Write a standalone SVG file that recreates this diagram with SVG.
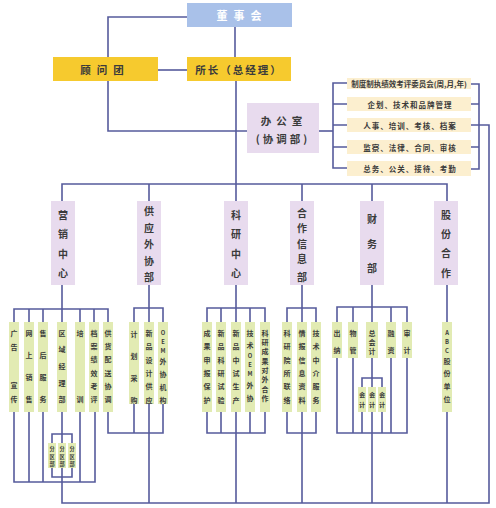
<svg xmlns="http://www.w3.org/2000/svg" width="496" height="508" viewBox="0 0 496 508">
<defs>
<style>
.ln{stroke:#565b9c;stroke-width:1.6;fill:none}
.top{fill:#a9c1e9}
.yel{fill:#f6ca2e}
.off{fill:#e8dbee}
.row{fill:#fcefcf}
.dept{fill:#e8dbee}
.item{fill:#e2ebb3}
text{font-family:"Noto Sans CJK SC","Noto Sans",sans-serif;text-anchor:middle;dominant-baseline:central;fill:#3b3b3b}
.tw{fill:#ffffff;font-size:11px;font-weight:bold;letter-spacing:6px}
.tb{font-size:10.5px;font-weight:bold}
.td{font-size:10px;font-weight:bold}
.tr{font-size:7.5px;font-weight:bold}
.ti{font-size:7px;font-weight:bold}
.tl{font-size:5.8px}
.ts{font-size:6.2px;font-weight:bold}
.tz{font-size:5.2px;font-weight:bold}
</style>
</defs>
<rect width="496" height="508" fill="#ffffff"/>
<g id="connectors">
<path class="ln" d="M187,17H108V57"/>
<path class="ln" d="M235,27V57"/>
<path class="ln" d="M158,70H187"/>
<path class="ln" d="M108,81V131H247"/>
<path class="ln" d="M236,81V201"/>
<path class="ln" d="M319,131H333"/>
<path class="ln" d="M347,83H333V168H347M333,104H347M333,125H347M333,147H347"/>
<path class="ln" d="M471,84H479V169H471M471,104H479M471,147H479"/>
<path class="ln" d="M471,125H489V503H62V412"/>
<path class="ln" d="M62,201V184H447V201M149,184V201M302,184V201M372,184V201"/>
<path class="ln" d="M62,285V322M14,322V309H108V322M29,309V322M43,309V322M80,309V322M94,309V322"/>
<path class="ln" d="M14,412V482H95V412M29,412V482M43,412V482M80,412V482"/>
<path class="ln" d="M52,443V434H72V443M52,468V477H72V468"/>
<path class="ln" d="M108,412V433H163V404"/>
<path class="ln" d="M149,285V503M134,322V308H163V322M134,404V433"/>
<path class="ln" d="M236,285V503M207,322V308H265V322M221,308V322M250,308V322"/>
<path class="ln" d="M207,412V433H265V412M221,412V433M250,412V433"/>
<path class="ln" d="M302,285V503M287,322V308H316V322M287,412V433H316V412"/>
<path class="ln" d="M372,285V503M337,322V307H407V322M353,307V322M391,307V322"/>
<path class="ln" d="M337,358V433H407V358M353,358V433M391,358V433"/>
<path class="ln" d="M362,387V378H382V387M362,412V433M382,412V433"/>
<path class="ln" d="M447,285V503"/>
</g>
<g id="board"><rect class="top" x="187" y="3" width="105" height="24"/><text class="tw" x="242" y="15">董事会</text></g>
<g id="advisors"><rect class="yel" x="53" y="57" width="105" height="24"/><text class="tb" x="105" y="69" style="letter-spacing:6px">顾问团</text></g>
<g id="director"><rect class="yel" x="187" y="57" width="104" height="24"/><text class="tb" x="239" y="69" style="letter-spacing:2px">所长（总经理）</text></g>
<g id="office"><rect class="off" x="247" y="103" width="72" height="50"/><text class="tb" x="284" y="120" style="letter-spacing:5px">办公室</text><text class="tb" x="283" y="138" style="letter-spacing:3px">(协调部)</text></g>
<g id="office-rows">
<rect class="row" x="347" y="78" width="124" height="11"/><text class="tr" x="409" y="83.5">制度制执绩效考评委员会(周,月,年)</text>
<rect class="row" x="347" y="97" width="124" height="14"/><text class="tr" x="410" y="104" style="letter-spacing:1px">企划、技术和品牌管理</text>
<rect class="row" x="347" y="118" width="124" height="14"/><text class="tr" x="410" y="125" style="letter-spacing:1px">人事、培训、考核、档案</text>
<rect class="row" x="347" y="140" width="124" height="14"/><text class="tr" x="410" y="147" style="letter-spacing:1px">监察、法律、合同、审核</text>
<rect class="row" x="347" y="161" width="124" height="15"/><text class="tr" x="410" y="168" style="letter-spacing:1px">总务、公关、接待、考勤</text>
</g>
<g id="dept-marketing"><rect class="dept" x="51" y="201" width="24" height="84"/><text class="td"><tspan x="63" y="214">营</tspan><tspan x="63" y="233">销</tspan><tspan x="63" y="253">中</tspan><tspan x="63" y="272">心</tspan></text></g>
<g id="dept-supply"><rect class="dept" x="137" y="201" width="24" height="84"/><text class="td"><tspan x="149" y="210">供</tspan><tspan x="149" y="227">应</tspan><tspan x="149" y="243">外</tspan><tspan x="149" y="260">协</tspan><tspan x="149" y="276">部</tspan></text></g>
<g id="dept-research"><rect class="dept" x="224" y="201" width="24" height="84"/><text class="td"><tspan x="236" y="214">科</tspan><tspan x="236" y="233">研</tspan><tspan x="236" y="253">中</tspan><tspan x="236" y="272">心</tspan></text></g>
<g id="dept-coop"><rect class="dept" x="290" y="201" width="24" height="84"/><text class="td"><tspan x="302" y="212">合</tspan><tspan x="302" y="227">作</tspan><tspan x="302" y="243">信</tspan><tspan x="302" y="258">息</tspan><tspan x="302" y="276">部</tspan></text></g>
<g id="dept-finance"><rect class="dept" x="360" y="201" width="24" height="84"/><text class="td"><tspan x="372" y="218">财</tspan><tspan x="372" y="243">务</tspan><tspan x="372" y="267">部</tspan></text></g>
<g id="dept-shares"><rect class="dept" x="434" y="201" width="24" height="84"/><text class="td"><tspan x="446" y="214">股</tspan><tspan x="446" y="233">份</tspan><tspan x="446" y="252">合</tspan><tspan x="446" y="272">作</tspan></text></g>
<g id="item-ad"><rect class="item" x="9" y="322" width="10" height="90"/><text class="ti"><tspan x="14" y="333">广</tspan><tspan x="14" y="347">告</tspan><tspan x="14" y="385">宣</tspan><tspan x="14" y="399">传</tspan></text></g>
<g id="item-online"><rect class="item" x="24" y="322" width="10" height="90"/><text class="ti"><tspan x="29" y="333">网</tspan><tspan x="29" y="355">上</tspan><tspan x="29" y="377">销</tspan><tspan x="29" y="399">售</tspan></text></g>
<g id="item-aftersale"><rect class="item" x="38" y="322" width="10" height="90"/><text class="ti"><tspan x="43" y="333">售</tspan><tspan x="43" y="355">后</tspan><tspan x="43" y="377">服</tspan><tspan x="43" y="399">务</tspan></text></g>
<g id="item-region"><rect class="item" x="57" y="322" width="10" height="90"/><text class="ti"><tspan x="62" y="333">区</tspan><tspan x="62" y="349">域</tspan><tspan x="62" y="366">经</tspan><tspan x="62" y="383">理</tspan><tspan x="62" y="399">部</tspan></text></g>
<g id="item-training"><rect class="item" x="75" y="322" width="10" height="90"/><text class="ti"><tspan x="80" y="333">培</tspan><tspan x="80" y="399">训</tspan></text></g>
<g id="item-archive"><rect class="item" x="89" y="322" width="10" height="90"/><text class="ti"><tspan x="94" y="333">档</tspan><tspan x="94" y="346">案</tspan><tspan x="94" y="359">绩</tspan><tspan x="94" y="373">效</tspan><tspan x="94" y="386">考</tspan><tspan x="94" y="399">评</tspan></text></g>
<g id="item-delivery"><rect class="item" x="103" y="322" width="10" height="90"/><text class="ti"><tspan x="108" y="333">供</tspan><tspan x="108" y="346">货</tspan><tspan x="108" y="359">配</tspan><tspan x="108" y="373">送</tspan><tspan x="108" y="386">协</tspan><tspan x="108" y="399">调</tspan></text></g>
<g id="sub-1"><rect class="item" x="48" y="443" width="8" height="25"/><text class="tz"><tspan x="52" y="448">分</tspan><tspan x="52" y="455.5">区</tspan><tspan x="52" y="463">部</tspan></text></g>
<g id="sub-2"><rect class="item" x="58" y="443" width="8" height="25"/><text class="tz"><tspan x="62" y="448">分</tspan><tspan x="62" y="455.5">区</tspan><tspan x="62" y="463">部</tspan></text></g>
<g id="sub-3"><rect class="item" x="68" y="443" width="8" height="25"/><text class="tz"><tspan x="72" y="448">分</tspan><tspan x="72" y="455.5">区</tspan><tspan x="72" y="463">部</tspan></text></g>
<g id="item-plan"><rect class="item" x="129" y="322" width="10" height="82"/><text class="ti"><tspan x="134" y="334">计</tspan><tspan x="134" y="356">划</tspan><tspan x="134" y="378">采</tspan><tspan x="134" y="400">购</tspan></text></g>
<g id="item-newsupply"><rect class="item" x="144" y="322" width="10" height="82"/><text class="ti"><tspan x="149" y="333">新</tspan><tspan x="149" y="346">品</tspan><tspan x="149" y="360">设</tspan><tspan x="149" y="373">计</tspan><tspan x="149" y="386">供</tspan><tspan x="149" y="400">应</tspan></text></g>
<g id="item-oem"><rect class="item" x="158" y="322" width="10" height="82"/><text class="ti"><tspan class="tl" x="163" y="332">O</tspan><tspan class="tl" x="163" y="341">E</tspan><tspan class="tl" x="163" y="350">M</tspan><tspan x="163" y="361">外</tspan><tspan x="163" y="374">协</tspan><tspan x="163" y="387">机</tspan><tspan x="163" y="400">构</tspan></text></g>
<g id="item-results"><rect class="item" x="202" y="322" width="10" height="90"/><text class="ti"><tspan x="207" y="333">成</tspan><tspan x="207" y="346">果</tspan><tspan x="207" y="360">申</tspan><tspan x="207" y="373">报</tspan><tspan x="207" y="386">保</tspan><tspan x="207" y="400">护</tspan></text></g>
<g id="item-experiment"><rect class="item" x="216" y="322" width="10" height="90"/><text class="ti"><tspan x="221" y="333">新</tspan><tspan x="221" y="346">品</tspan><tspan x="221" y="360">科</tspan><tspan x="221" y="373">研</tspan><tspan x="221" y="386">试</tspan><tspan x="221" y="400">验</tspan></text></g>
<g id="item-pilot"><rect class="item" x="231" y="322" width="10" height="90"/><text class="ti"><tspan x="236" y="333">新</tspan><tspan x="236" y="346">品</tspan><tspan x="236" y="360">中</tspan><tspan x="236" y="373">试</tspan><tspan x="236" y="386">生</tspan><tspan x="236" y="400">产</tspan></text></g>
<g id="item-techoem"><rect class="item" x="245" y="322" width="10" height="90"/><text class="ti"><tspan x="250" y="333">技</tspan><tspan x="250" y="345">术</tspan><tspan class="tl" x="250" y="355">O</tspan><tspan class="tl" x="250" y="364">E</tspan><tspan class="tl" x="250" y="373">M</tspan><tspan x="250" y="385">外</tspan><tspan x="250" y="398">协</tspan></text></g>
<g id="item-outcoop"><rect class="item" x="260" y="322" width="10" height="90"/><text class="ti"><tspan x="265" y="333">科</tspan><tspan x="265" y="342">研</tspan><tspan x="265" y="351">成</tspan><tspan x="265" y="361">果</tspan><tspan x="265" y="370">对</tspan><tspan x="265" y="379">外</tspan><tspan x="265" y="389">合</tspan><tspan x="265" y="398">作</tspan></text></g>
<g id="item-liaison"><rect class="item" x="282" y="322" width="10" height="90"/><text class="ti"><tspan x="287" y="333">科</tspan><tspan x="287" y="346">研</tspan><tspan x="287" y="360">院</tspan><tspan x="287" y="373">所</tspan><tspan x="287" y="386">联</tspan><tspan x="287" y="400">络</tspan></text></g>
<g id="item-intel"><rect class="item" x="297" y="322" width="10" height="90"/><text class="ti"><tspan x="302" y="333">情</tspan><tspan x="302" y="346">报</tspan><tspan x="302" y="360">信</tspan><tspan x="302" y="373">息</tspan><tspan x="302" y="386">资</tspan><tspan x="302" y="400">料</tspan></text></g>
<g id="item-agency"><rect class="item" x="311" y="322" width="10" height="90"/><text class="ti"><tspan x="316" y="333">技</tspan><tspan x="316" y="346">术</tspan><tspan x="316" y="360">中</tspan><tspan x="316" y="373">介</tspan><tspan x="316" y="386">服</tspan><tspan x="316" y="400">务</tspan></text></g>
<g id="item-cashier"><rect class="item" x="332" y="322" width="10" height="36"/><text class="ti"><tspan x="337" y="333">出</tspan><tspan x="337" y="350">纳</tspan></text></g>
<g id="item-material"><rect class="item" x="348" y="322" width="10" height="36"/><text class="ti"><tspan x="353" y="333">物</tspan><tspan x="353" y="350">管</tspan></text></g>
<g id="item-chiefacct"><rect class="item" x="366" y="322" width="12" height="36"/><text class="ti"><tspan x="372" y="333">总</tspan><tspan x="372" y="342">会</tspan><tspan x="372" y="351">计</tspan></text></g>
<g id="item-finance"><rect class="item" x="386" y="322" width="10" height="36"/><text class="ti"><tspan x="391" y="333">融</tspan><tspan x="391" y="350">资</tspan></text></g>
<g id="item-audit"><rect class="item" x="402" y="322" width="10" height="36"/><text class="ti"><tspan x="407" y="333">审</tspan><tspan x="407" y="350">计</tspan></text></g>
<g id="acct-1"><rect class="item" x="358" y="387" width="8" height="25"/><text class="ts"><tspan x="362" y="394">会</tspan><tspan x="362" y="404">计</tspan></text></g>
<g id="acct-2"><rect class="item" x="368" y="387" width="8" height="25"/><text class="ts"><tspan x="372" y="394">会</tspan><tspan x="372" y="404">计</tspan></text></g>
<g id="acct-3"><rect class="item" x="378" y="387" width="8" height="25"/><text class="ts"><tspan x="382" y="394">会</tspan><tspan x="382" y="404">计</tspan></text></g>
<g id="item-abc"><rect class="item" x="442" y="322" width="10" height="90"/><text class="ti"><tspan class="tl" x="447" y="332">A</tspan><tspan class="tl" x="447" y="341">B</tspan><tspan class="tl" x="447" y="350">C</tspan><tspan x="447" y="361">股</tspan><tspan x="447" y="373">份</tspan><tspan x="447" y="386">单</tspan><tspan x="447" y="399">位</tspan></text></g>
</svg>
